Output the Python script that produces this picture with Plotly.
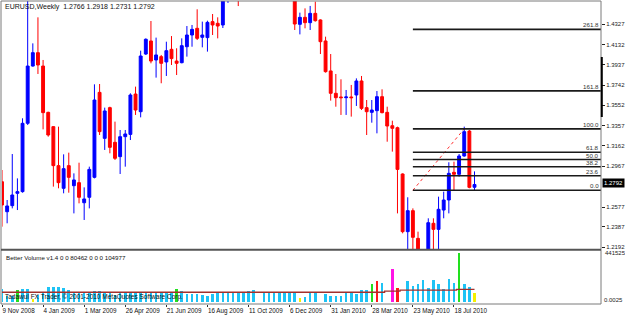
import plotly.graph_objects as go
import pandas as pd

W, H = 625, 315
FONT = "Liberation Sans"

# ---------------- data ----------------
week_start = "2008-11-09"
opens = [1.2819, 1.2532, 1.2590, 1.2708, 1.2724, 1.3378, 1.3926, 1.4054, 1.3926, 1.3483,
         1.3346, 1.2973, 1.2756, 1.2973, 1.2781, 1.2810, 1.2618, 1.2670, 1.2861, 1.3674,
         1.3234, 1.3528, 1.3196, 1.3059, 1.3250, 1.3272, 1.3658, 1.3489, 1.4041, 1.4166,
         1.3984, 1.4016, 1.3965, 1.4086, 1.3974, 1.3958, 1.4111, 1.4223, 1.4287, 1.4201,
         1.4198, 1.4351, 1.4335, 1.4319, 1.4570, 1.4700, 1.4680, 1.4580, 1.4730, 1.4900,
         1.5000, 1.4720, 1.4870, 1.4920, 1.4870, 1.5000, 1.4860, 1.4620, 1.4325, 1.4392,
         1.4341, 1.4430, 1.4367, 1.4166, 1.3879, 1.3665, 1.3630, 1.3623, 1.3630, 1.3649,
         1.3783, 1.3528, 1.3483, 1.3499, 1.3633, 1.3483, 1.3355, 1.3336, 1.2893, 1.2341,
         1.2542, 1.2277, 1.1965, 1.2110, 1.2421, 1.2363, 1.2548, 1.2644, 1.2909, 1.2890,
         1.3065, 1.3304, 1.2766]
highs = [1.2931, 1.2644, 1.3084, 1.2851, 1.3426, 1.4720, 1.4143, 1.4392, 1.3984, 1.3489,
         1.3350, 1.3346, 1.3081, 1.3097, 1.2899, 1.3001, 1.2765, 1.2963, 1.3751, 1.3754,
         1.3528, 1.3537, 1.3394, 1.3314, 1.3314, 1.3665, 1.3729, 1.4073, 1.4191, 1.4357,
         1.4198, 1.4032, 1.4159, 1.4213, 1.4096, 1.4191, 1.4309, 1.4319, 1.4469, 1.4351,
         1.4360, 1.4424, 1.4392, 1.4600, 1.4740, 1.4840, 1.4720, 1.4760, 1.4930, 1.5060,
         1.5030, 1.4930, 1.5030, 1.5000, 1.5140, 1.5140, 1.4870, 1.4650, 1.4437, 1.4478,
         1.4501, 1.4542, 1.4373, 1.4207, 1.4041, 1.3850, 1.3799, 1.3697, 1.3745, 1.3808,
         1.3831, 1.3601, 1.3601, 1.3687, 1.3703, 1.3537, 1.3403, 1.3346, 1.2899, 1.2670,
         1.2564, 1.2341, 1.2110, 1.2469, 1.2469, 1.2676, 1.2724, 1.3005, 1.3011, 1.3084,
         1.3346, 1.3314, 1.2918]
lows = [1.2389, 1.2421, 1.2564, 1.2548, 1.2714, 1.3362, 1.3920, 1.3850, 1.3320, 1.3250,
        1.2772, 1.2756, 1.2708, 1.2714, 1.2516, 1.2612, 1.2453, 1.2564, 1.2851, 1.3266,
        1.3123, 1.3091, 1.3027, 1.2893, 1.2963, 1.3218, 1.3458, 1.3435, 1.4032, 1.3952,
        1.3815, 1.3761, 1.3831, 1.3936, 1.3840, 1.3952, 1.4016, 1.4111, 1.4175, 1.4105,
        1.4064, 1.4223, 1.4191, 1.4290, 1.4530, 1.4630, 1.4500, 1.4560, 1.4700, 1.4880,
        1.4650, 1.4690, 1.4830, 1.4820, 1.4830, 1.4850, 1.4590, 1.4271, 1.4229, 1.4287,
        1.4271, 1.4351, 1.4041, 1.3863, 1.3595, 1.3537, 1.3458, 1.3458, 1.3442, 1.3544,
        1.3505, 1.3266, 1.3384, 1.3282, 1.3473, 1.3202, 1.3107, 1.2516, 1.2325, 1.2140,
        1.2130, 1.1950, 1.1876, 1.2040, 1.2150, 1.2150, 1.2469, 1.2516, 1.2733, 1.2867,
        1.3059, 1.2756, 1.2731]
closes = [1.2596, 1.2587, 1.2692, 1.2724, 1.3378, 1.3926, 1.4054, 1.3936, 1.3480, 1.3266,
          1.2973, 1.2810, 1.2944, 1.2861, 1.2836, 1.2670, 1.2654, 1.2937, 1.3601, 1.3298,
          1.3496, 1.3148, 1.3043, 1.3250, 1.3276, 1.3649, 1.3505, 1.4022, 1.4182, 1.3974,
          1.4032, 1.3952, 1.4073, 1.3997, 1.3952, 1.4121, 1.4223, 1.4277, 1.4191, 1.4223,
          1.4344, 1.4319, 1.4309, 1.4570, 1.4700, 1.4680, 1.4580, 1.4730, 1.4900, 1.5000,
          1.4720, 1.4870, 1.4920, 1.4870, 1.5000, 1.4860, 1.4620, 1.4328, 1.4392, 1.4341,
          1.4430, 1.4360, 1.4159, 1.3872, 1.3665, 1.3623, 1.3623, 1.3630, 1.3623, 1.3783,
          1.3521, 1.3489, 1.3505, 1.3633, 1.3480, 1.3352, 1.3330, 1.2937, 1.2341, 1.2542,
          1.2287, 1.1965, 1.2110, 1.2427, 1.2363, 1.2555, 1.2644, 1.2899, 1.2890, 1.3065,
          1.3298, 1.2765, 1.2792]

volumes = [114000, 50000, 50000, 105000, 114000, 114000, 23000, 59000, 86000, 135000,
           135000, 135000, 120000, 105000, 89000, 89000, 75000, 89000, 98000, 98000,
           80000, 75000, 59000, 75000, 75000, 89000, 80000, 84000, 80000, 75000,
           75000, 75000, 75000, 75000, 114000, 98000, 66000, 66000, 68000, 59000,
           53000, 68000, 75000, 75000, 75000, 80000, 89000, 84000, 98000, 105000,
           130000, 80000, 80000, 80000, 86000, 89000, 84000, 80000, 35000, 41000,
           75000, 75000, 140000, 66000, 53000, 53000, 53000, 84000, 89000, 66000,
           102000, 105000, 157000, 187000, 166000, 200000, 296000, 126000, 300000, 187000,
           144000, 157000, 196000, 120000, 196000, 157000, 114000, 205000, 166000, 441525,
           157000, 129000, 80462]
vol_kind = ["n", "n", "n", "g", "n", "n", "y", "n", "n", "n",
            "n", "n", "n", "n", "n", "n", "n", "n", "n", "n",
            "n", "n", "n", "n", "n", "n", "n", "n", "n", "n",
            "n", "n", "n", "n", "g", "n", "n", "n", "n", "n",
            "n", "n", "n", "n", "n", "n", "n", "n", "n", "n",
            "w", "n", "n", "n", "n", "n", "n", "n", "y", "n",
            "n", "n", "w", "n", "n", "n", "n", "n", "n", "n",
            "n", "n", "g", "r", "n", "w", "m", "r", "w", "n",
            "n", "n", "n", "n", "n", "n", "n", "n", "n", "g",
            "n", "n", "y"]
vol_avg = [84000] * 75 + [95000] * 3 + [103000] * 11 + [110000] * 4

tick_dates = ["2008-11-09", "2009-01-04", "2009-03-01", "2009-04-26", "2009-06-21",
              "2009-08-16", "2009-10-11", "2009-12-06", "2010-01-31", "2010-03-28",
              "2010-05-23", "2010-07-18"]
tick_labels = ["9 Nov 2008", "4 Jan 2009", "1 Mar 2009", "26 Apr 2009", "21 Jun 2009",
               "16 Aug 2009", "11 Oct 2009", "6 Dec 2009", "31 Jan 2010", "28 Mar 2010",
               "23 May 2010", "18 Jul 2010"]
price_ticks = [1.4327, 1.4132, 1.3937, 1.3742, 1.3552, 1.3357, 1.3162, 1.2967,
               1.2577, 1.2387, 1.2192]

fib_levels = [0.0, 23.6, 38.2, 50.0, 61.8, 100.0, 161.8, 261.8]
fib_anchor_dates = ["2010-05-23", "2010-08-01"]
fib_anchor_prices = [1.2737, 1.3325]

vol_max_label = "441525"
vol_min_label = "0.0025"
ind_label = "Better Volume v1.4 0 0 80462 0 0 0 104977"
copyright_label = "Tadawul FX Trader, \u00a9 2001-2010 MetaQuotes Software Corp."

# ---------------- helpers ----------------
weeks = pd.date_range(week_start, periods=len(opens), freq="7D")
idx = list(range(len(opens)))
tick_pos = [weeks.get_loc(pd.Timestamp(d)) for d in tick_dates]
fib_x = [weeks.get_loc(pd.Timestamp(d)) for d in fib_anchor_dates]

color_map = {"n": "#1EC3F5", "g": "#22E01E", "y": "#F5F000", "r": "#FF1A1A",
             "m": "#FF14E6", "w": "#FFFFFF"}
vol_colors = [color_map[k] for k in vol_kind]


def PX(x):
    return x / W


def PY(y):
    return 1 - y / H


# pixel geometry
LEFT, RIGHT = 2, 601
MAIN_TOP, MAIN_BOT = 1, 249
VOL_TOP, VOL_BOT = 251, 304
px_per_week = 5.136
x_range = [0, (RIGHT - LEFT) / px_per_week]
# price scale
p_ref, y_ref, ppu = 1.3357, 125.5, 1045.0
main_range = [p_ref - (MAIN_BOT - y_ref) / ppu, p_ref + (y_ref - MAIN_TOP) / ppu]
# volume scale
v_base_px, v_top_px = 301.5, 253.0
vs = float(vol_max_label) / (v_base_px - v_top_px)
vol_range = [-(VOL_BOT - v_base_px) * vs, (v_base_px - VOL_TOP) * vs]

fig = go.Figure()

fig.add_trace(go.Candlestick(
    x=idx, open=opens, high=highs, low=lows, close=closes,
    xaxis="x2", yaxis="y2",
    increasing=dict(line=dict(color="#0000FF", width=1), fillcolor="#0000FF"),
    decreasing=dict(line=dict(color="#FF0000", width=1), fillcolor="#FF0000"),
    whiskerwidth=0, showlegend=False, hoverinfo="skip"))

fig.add_trace(go.Scatter(
    x=fib_x, y=fib_anchor_prices, mode="lines", xaxis="x2", yaxis="y2",
    line=dict(color="#FF3030", width=1, dash="dot"), showlegend=False, hoverinfo="skip"))

fig.add_trace(go.Bar(
    x=idx, y=volumes, width=0.5, marker=dict(color=vol_colors, line=dict(width=0)),
    xaxis="x", yaxis="y", showlegend=False, hoverinfo="skip"))

fig.add_trace(go.Scatter(
    x=idx, y=vol_avg, mode="lines", line=dict(color="#A3302C", width=1.3, shape="hvh"),
    xaxis="x", yaxis="y", showlegend=False, hoverinfo="skip"))

shapes = []
annotations = []

# fibonacci levels
span = fib_anchor_prices[1] - fib_anchor_prices[0]
for lvl in fib_levels:
    price = fib_anchor_prices[0] + span * lvl / 100.0
    shapes.append(dict(type="line", xref="x2", yref="y2", x0=fib_x[0], x1=x_range[1],
                       y0=price, y1=price, line=dict(color="#1A1A1A", width=1.6)))
    annotations.append(dict(text=f"{lvl:.1f}", xref="paper", yref="y2", x=PX(599.5), y=price,
                            xanchor="right", yanchor="bottom", showarrow=False,
                            font=dict(family=FONT, size=6.2, color="#333333"), borderpad=0))

# borders
grey = "#7A7A7A"
shapes += [
    dict(type="line", xref="paper", yref="paper", x0=PX(1), x1=PX(RIGHT), y0=PY(1), y1=PY(1),
         line=dict(color=grey, width=1)),
    dict(type="line", xref="paper", yref="paper", x0=PX(1), x1=PX(1), y0=PY(1), y1=PY(VOL_BOT),
         line=dict(color=grey, width=1)),
    dict(type="line", xref="paper", yref="paper", x0=PX(RIGHT), x1=PX(RIGHT), y0=PY(1), y1=PY(VOL_BOT),
         line=dict(color=grey, width=1)),
    dict(type="line", xref="paper", yref="paper", x0=PX(1), x1=PX(RIGHT), y0=PY(249.8), y1=PY(249.8),
         line=dict(color="#555555", width=2)),
    dict(type="line", xref="paper", yref="paper", x0=PX(1), x1=PX(RIGHT), y0=PY(VOL_BOT), y1=PY(VOL_BOT),
         line=dict(color=grey, width=1)),
    dict(type="line", xref="paper", yref="paper", x0=PX(601.8), x1=PX(601.8), y0=PY(57), y1=PY(117),
         line=dict(color="#000000", width=2)),
]

title = (f"EURUSD,Weekly\u00a0\u00a0{opens[-1]:.4f}\u00a0{highs[-1]:.4f}\u00a0"
         f"{lows[-1]:.4f}\u00a0{closes[-1]:.4f}")
annotations += [
    dict(text=title, xref="paper", yref="paper", x=PX(3), y=PY(6.7), xanchor="left",
         yanchor="middle", showarrow=False, font=dict(family=FONT, size=7, color="#111111")),
    dict(text=ind_label, xref="paper", yref="paper", x=PX(4), y=PY(257.3), xanchor="left",
         yanchor="middle", showarrow=False, font=dict(family=FONT, size=6.2, color="#111111")),
    dict(text=copyright_label, xref="paper", yref="paper", x=PX(3), y=PY(297.3), xanchor="left",
         yanchor="middle", showarrow=False, font=dict(family=FONT, size=6.5, color="#111111")),
    dict(text=vol_max_label, xref="paper", yref="paper", x=PX(603), y=PY(253), xanchor="left",
         yanchor="middle", showarrow=False, font=dict(family=FONT, size=6, color="#222222")),
    dict(text=vol_min_label, xref="paper", yref="paper", x=PX(601.5), y=PY(300), xanchor="left",
         yanchor="middle", showarrow=False, font=dict(family=FONT, size=6, color="#222222")),
    dict(text=f"{closes[-1]:.4f}", xref="paper", yref="y2", x=PX(602), y=closes[-1],
         xanchor="left", yanchor="middle", yshift=1.5, showarrow=False, bgcolor="#000000",
         borderpad=1, font=dict(family=FONT, size=6, color="#FFFFFF")),
]

fig.update_layout(
    width=W, height=H, margin=dict(l=0, r=0, t=0, b=0),
    paper_bgcolor="white", plot_bgcolor="white",
    boxgap=0.2, boxgroupgap=0.3, bargap=0,
    shapes=shapes, annotations=annotations,
    xaxis=dict(domain=[PX(LEFT), PX(RIGHT)], range=x_range, anchor="y",
               tickvals=tick_pos, ticktext=tick_labels, ticks="outside", ticklen=2,
               tickcolor="#333333", ticklabelposition="outside right", tickangle=0,
               tickfont=dict(family=FONT, size=6.3, color="#111111"),
               showgrid=False, zeroline=False, showline=False, fixedrange=True),
    xaxis2=dict(domain=[PX(LEFT), PX(RIGHT)], range=x_range, anchor="y2", matches="x",
                showticklabels=False, showgrid=False, zeroline=False, showline=False,
                rangeslider=dict(visible=False)),
    yaxis=dict(domain=[PY(VOL_BOT), PY(VOL_TOP)], range=vol_range, anchor="x",
               showticklabels=False, showgrid=False, zeroline=False, showline=False),
    yaxis2=dict(domain=[PY(MAIN_BOT), PY(MAIN_TOP)], range=main_range, anchor="x2",
                side="right", tickvals=price_ticks, ticktext=[f"{t:.4f}" for t in price_ticks],
                ticks="outside", ticklen=3, tickcolor="#222222",
                tickfont=dict(family=FONT, size=6, color="#222222"),
                showgrid=False, zeroline=False, showline=False),
)

fig.write_html("out.html")
